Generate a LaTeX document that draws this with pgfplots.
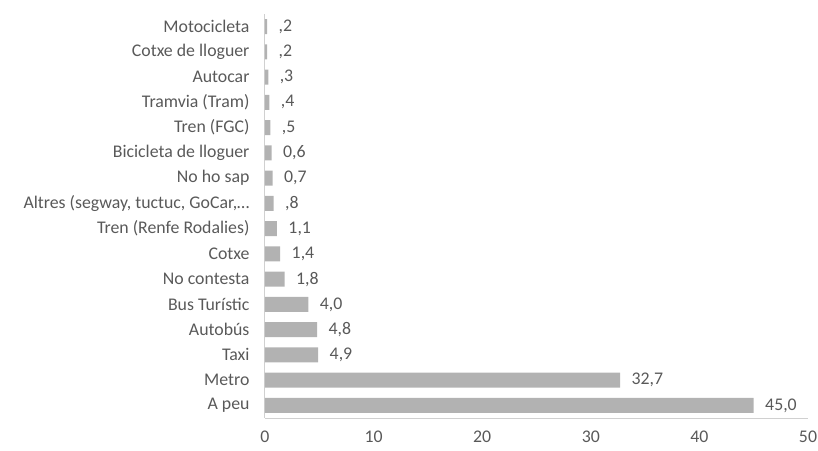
\documentclass[border=0pt]{standalone}
\usepackage{pgfplots}
\pgfplotsset{compat=1.18}
\usepackage{pgfplotstable}
\usepackage{fontspec}
\setmainfont{Carlito}
\definecolor{bargray}{HTML}{B2B2B2}
\definecolor{txtgray}{HTML}{595959}
\definecolor{axgray}{HTML}{D0D0D0}

% Mitjà de transport: posició, valor, etiqueta
\pgfplotstableread{
pos val lab
0  45.0 45,0
1  32.7 32,7
2  4.9  4,9
3  4.8  4,8
4  4.0  4,0
5  1.8  1,8
6  1.4  1,4
7  1.1  1,1
8  0.8  ,8
9  0.7  0,7
10 0.6  0,6
11 0.5  ,5
12 0.4  ,4
13 0.3  ,3
14 0.2  ,2
15 0.2  ,2
}\dades

\begin{document}
\begin{tikzpicture}
\useasboundingbox (-265pt,-32pt) rectangle (553pt,418pt);
\begin{axis}[
  at={(0,0)}, anchor=south west,
  scale only axis,
  width=543pt, height=404pt,
  xbar, bar width=15pt,
  xmin=0, xmax=50,
  ymin=-0.5, ymax=15.5,
  xtick={0,10,20,30,40,50},
  ytick={0,1,2,3,4,5,6,7,8,9,10,11,12,13,14,15},
  yticklabels={A peu,Metro,Taxi,Autobús,Bus Turístic,No contesta,Cotxe,Tren (Renfe Rodalies),{Altres (segway, tuctuc, GoCar,…},No ho sap,Bicicleta de lloguer,Tren (FGC),Tramvia (Tram),Autocar,Cotxe de lloguer,Motocicleta},
  major tick length=0pt,
  axis x line*=bottom,
  axis y line*=left,
  axis line style={axgray, line width=1pt},
  x axis line style={-},
  y axis line style={-},
  tick label style={font=\fontsize{17.8pt}{20pt}\selectfont, text=txtgray},
  yticklabel style={xshift=-12pt},
  xticklabel style={yshift=-9pt},
  /pgf/number format/assume math mode=true,
  nodes near coords,
  point meta=explicit symbolic,
  every node near coord/.append style={font=\fontsize{17.8pt}{20pt}\selectfont, text=txtgray, anchor=west, xshift=8pt},
  clip=false,
]
\addplot[fill=bargray, draw=none] table[x=val, y=pos, meta=lab] {\dades};
\end{axis}
\end{tikzpicture}
\end{document}
